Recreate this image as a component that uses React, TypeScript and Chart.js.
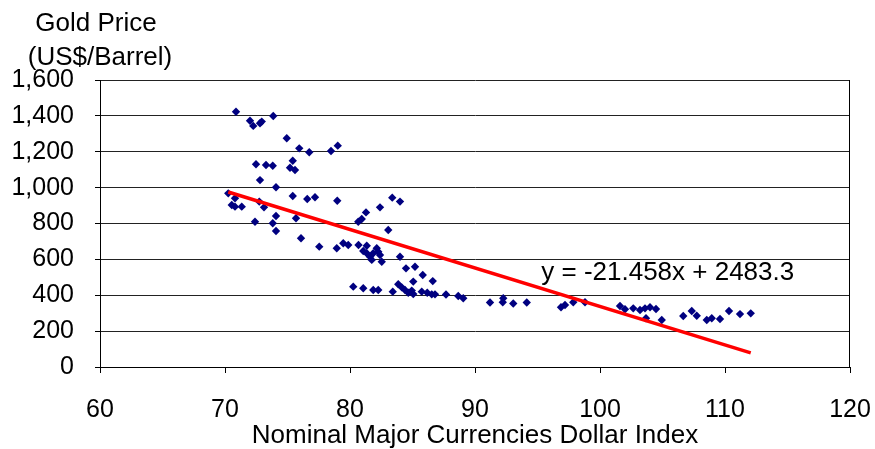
import React, { useEffect, useRef } from "react";
import { Chart, registerables } from "chart.js";

Chart.register(...registerables);

// Nominal Major Currencies Dollar Index (x) vs Gold Price (y)
const dollarIndex: number[] = [
  70.88, 72.0, 72.26, 72.8, 72.94, 73.86, 74.94, 75.94, 76.74, 78.48,
  79.02, 72.48, 73.28, 73.82, 75.42, 75.2, 75.6, 72.8, 74.08, 70.26,
  70.8, 70.54, 70.8, 71.34, 72.74, 73.12, 75.42, 76.58, 77.2, 78.98,
  74.08, 75.68, 72.4, 73.82, 74.08, 76.08, 77.54, 78.94, 79.46, 79.86,
  80.68, 81.34, 83.38, 84.0, 82.4, 81.28, 80.94, 80.66, 83.06, 81.06,
  81.34, 81.6, 81.74, 82.14, 82.26, 82.4, 82.54, 81.86, 84.0, 84.48,
  85.2, 85.82, 86.62, 85.06, 80.26, 81.06, 81.86, 82.26, 83.42, 83.86,
  84.14, 84.4, 84.66, 84.94, 85.06, 85.74, 86.18, 86.54, 86.8, 87.68,
  88.66, 89.06, 91.2, 92.26, 92.22, 93.06, 94.14, 96.88, 97.2, 97.86,
  98.8, 101.6, 102.0, 102.66, 103.2, 103.6, 104.0, 104.48, 103.68, 104.94,
  106.66, 107.34, 107.74, 108.54, 108.94, 109.6, 110.32, 111.2, 112.06,
];

const goldPrice: number[] = [
  1423, 1373, 1344, 1359, 1368, 1399, 1275, 1219, 1197, 1204,
  1234, 1130, 1126, 1122, 1150, 1111, 1098, 1042, 1002, 968,
  941, 903, 894, 894, 922, 890, 953, 937, 946, 927,
  842, 829, 810, 801, 758, 718, 671, 662, 690, 680,
  680, 676, 944, 922, 890, 862, 825, 810, 764, 647,
  634, 615, 597, 662, 643, 624, 587, 634, 615, 550,
  559, 513, 479, 476, 448, 439, 429, 429, 420, 461,
  444, 429, 414, 426, 407, 420, 414, 405, 405, 404,
  396, 383, 360, 383, 361, 354, 360, 333, 346, 361,
  361, 340, 322, 327, 318, 327, 333, 323, 272, 262,
  284, 312, 286, 262, 272, 268, 312, 295, 299,
];

// Linear trend line from the chart: y = -21.458x + 2483.3
const trendSlope = -21.458;
const trendIntercept = 2483.3;
const trendLabel = "y = -21.458x + 2483.3";
const trendLabelAt = { x: 95.3, y: 527 };

const xTicks = { min: 60, max: 120, step: 10 };
const yTicks = { min: 0, max: 1600, step: 200 };

const xTitle = "Nominal Major Currencies Dollar Index";
const yTitleLines = ["Gold Price", "(US$/Barrel)"];

const FONT = "'Liberation Sans', Arial, sans-serif";

export default function App() {
  const canvasRef = useRef<HTMLCanvasElement | null>(null);

  useEffect(() => {
    const canvas = canvasRef.current;
    if (!canvas) return;

    const points = dollarIndex.map((x, i) => ({ x, y: goldPrice[i] }));
    const xMin = Math.min(...dollarIndex);
    const xMax = Math.max(...dollarIndex);
    const trend = [
      { x: xMin, y: trendSlope * xMin + trendIntercept },
      { x: xMax, y: trendSlope * xMax + trendIntercept },
    ];

    const overlay = {
      id: "overlay",
      afterDraw(chart: any) {
        const { ctx, chartArea, scales } = chart;
        ctx.save();
        ctx.fillStyle = "#000";
        ctx.font = `26px ${FONT}`;
        ctx.textAlign = "center";
        ctx.textBaseline = "middle";
        ctx.fillText(yTitleLines[0], 96, 24);
        ctx.fillText(yTitleLines[1], 100, 58);
        // equation label
        ctx.textAlign = "left";
        ctx.fillText(
          trendLabel,
          scales.x.getPixelForValue(trendLabelAt.x),
          scales.y.getPixelForValue(trendLabelAt.y)
        );
        // right border
        ctx.strokeStyle = "#000";
        ctx.lineWidth = 1;
        ctx.beginPath();
        ctx.moveTo(chartArea.right - 0.5, chartArea.top);
        ctx.lineTo(chartArea.right - 0.5, chartArea.bottom);
        ctx.stroke();
        ctx.restore();
      },
    };

    const chart = new Chart(canvas, {
      type: "scatter",
      data: {
        datasets: [
          {
            type: "line",
            data: trend,
            borderColor: "#FF0000",
            borderWidth: 3.5,
            pointRadius: 0,
            fill: false,
            order: 0,
          } as any,
          {
            type: "scatter",
            data: points,
            pointStyle: "rectRot",
            pointRadius: 4.2,
            backgroundColor: "#000080",
            borderColor: "#000080",
            borderWidth: 0,
            order: 1,
          } as any,
        ],
      },
      options: {
        animation: false,
        responsive: true,
        maintainAspectRatio: false,
        layout: { padding: { top: 80, right: 25, bottom: 0, left: 0 } },
        plugins: {
          legend: { display: false },
          tooltip: { enabled: false },
          title: { display: false },
        },
        scales: {
          x: {
            type: "linear",
            min: xTicks.min,
            max: xTicks.max,
            afterFit(scale: any) {
              scale.height = 82;
              scale.paddingLeft = 0;
              scale.paddingRight = 0;
            },
            ticks: {
              stepSize: xTicks.step,
              color: "#000",
              font: { family: FONT, size: 25 },
              padding: 22,
              maxRotation: 0,
            },
            grid: {
              drawOnChartArea: false,
              tickLength: 6,
              tickColor: "#000",
              color: "#000",
            },
            border: { display: true, color: "#000", width: 1 },
            title: {
              display: true,
              text: xTitle,
              color: "#000",
              font: { family: FONT, size: 26, lineHeight: 1 },
              padding: { top: 0, bottom: 0 },
            },
          },
          y: {
            type: "linear",
            min: yTicks.min,
            max: yTicks.max,
            afterFit(scale: any) {
              scale.width = 100;
            },
            ticks: {
              stepSize: yTicks.step,
              color: "#000",
              font: { family: FONT, size: 25 },
              padding: 21,
              callback: (v: any) => Number(v).toLocaleString("en-US"),
            },
            grid: {
              color: "#222",
              lineWidth: 1,
              tickLength: 5,
              tickColor: "#000",
            },
            border: { display: true, color: "#000", width: 1 },
          },
        },
      },
      plugins: [overlay],
    });

    return () => chart.destroy();
  }, []);

  return (
    <div
      style={{
        position: "fixed",
        left: 0,
        top: 0,
        width: 875,
        height: 449,
        background: "#fff",
      }}
    >
      <canvas ref={canvasRef} />
    </div>
  );
}
